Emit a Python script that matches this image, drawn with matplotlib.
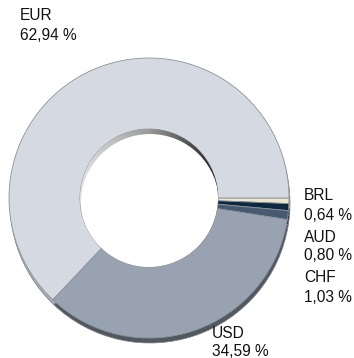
import numpy as np
import matplotlib.pyplot as plt
from matplotlib.patches import Circle
from matplotlib.colors import LinearSegmentedColormap

plt.rcParams['font.family'] = ['Liberation Sans', 'DejaVu Sans']

# currency split, clockwise from 3 o'clock
currencies = ['BRL', 'AUD', 'CHF', 'USD', 'EUR']
shares = [0.64, 0.80, 1.03, 34.59, 62.94]
top_colors = ['#ece6cf', '#0c2940', '#475a6f', '#98a2b1', '#d5dae2']
side_colors = ['#b9b39b', '#061521', '#27323e', '#52585f', '#a9adb3']

# label anchors (pixel x, centre y from the top) for name / value lines
label_pos = {
    'EUR': (20, 16, 36),
    'BRL': (304, 196, 215),
    'AUD': (304, 237, 256),
    'CHF': (304, 277, 297),
    'USD': (212, 333, 351),
}

W, H = 354, 358
fig = plt.figure(figsize=(W / 100, H / 100), dpi=100)
ax = fig.add_axes([0, 0, 1, 1])

cx, cy = 149, H - 198
r_out, r_in = 140, 69
depth = 5

# side of the ring (shifted down a bit)
ax.pie(shares, colors=side_colors, startangle=0, counterclock=False,
       center=(cx + 1, cy - depth), radius=r_out, frame=True,
       wedgeprops=dict(edgecolor='#7d8187', linewidth=0.5))

# top face of the ring
ax.pie(shares, colors=top_colors, startangle=0, counterclock=False,
       center=(cx, cy), radius=r_out, frame=True,
       wedgeprops=dict(width=r_out - r_in, edgecolor='#8d939b', linewidth=0.6))

# inner wall of the hole
hole = Circle((cx, cy), r_in, facecolor='none', edgecolor='none')
ax.add_patch(hole)
wall_cmap = LinearSegmentedColormap.from_list('wall', ['#e2e2e2', '#9a9a9a', '#1c1c1c'])
grad = np.tile(np.linspace(0, 1, 200), (10, 1))
im = ax.imshow(grad, cmap=wall_cmap, extent=(cx - r_in, cx + r_in, cy - r_in, cy + r_in),
               aspect='auto', zorder=3)
im.set_clip_path(hole)
floor = Circle((cx + 1, cy - depth), r_in, facecolor='white', edgecolor='none', zorder=4)
ax.add_patch(floor)
floor.set_clip_path(hole)

ax.set_xlim(0, W)
ax.set_ylim(0, H)
ax.set_aspect('auto')
ax.axis('off')

for name, val in zip(currencies, shares):
    x, y1, y2 = label_pos[name]
    ax.text(x, H - y1, name, fontsize=11.2, color='#111111', va='center', ha='left', zorder=6)
    ax.text(x, H - y2, f'{val:.2f} %'.replace('.', ','), fontsize=11.2, color='#111111',
            va='center', ha='left', zorder=6)

fig.savefig('out.png', dpi=100)
